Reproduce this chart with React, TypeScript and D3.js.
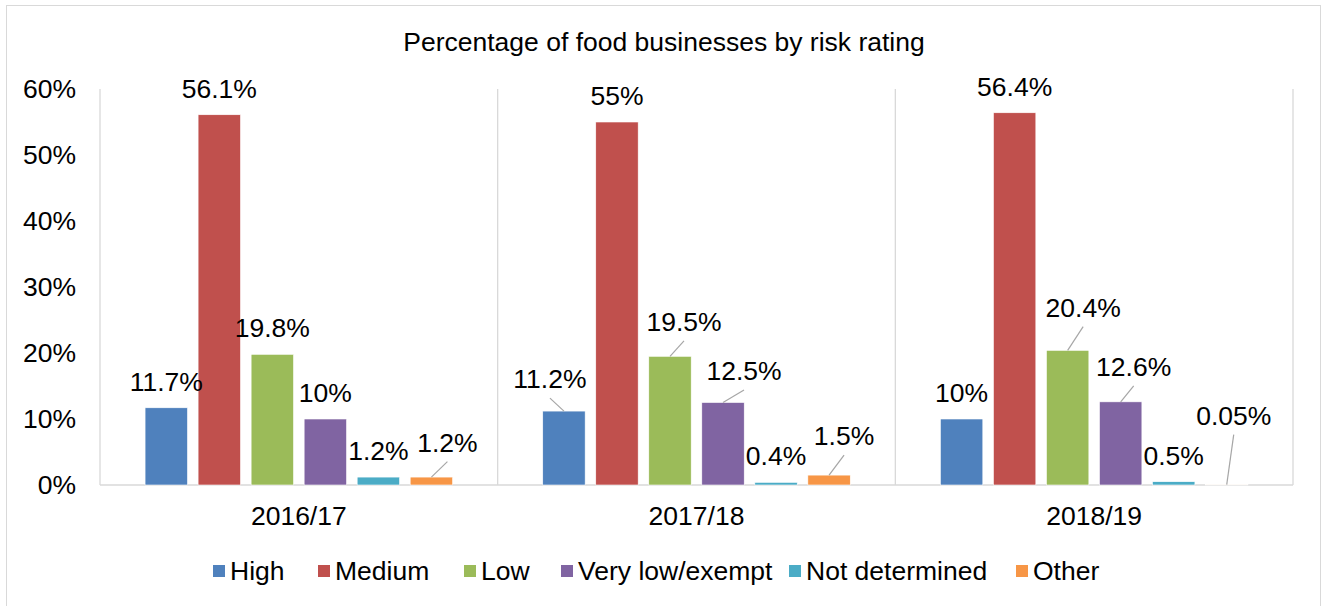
import React from 'react';
import * as d3 from 'd3';

const categories = ['2016/17', '2017/18', '2018/19'];
const series = ['High', 'Medium', 'Low', 'Very low/exempt', 'Not determined', 'Other'];
const colors = ['#4f81bd', '#c0504d', '#9bbb59', '#8064a2', '#4bacc6', '#f79646'];

// percentages per series, one value per category
const high = [11.7, 11.2, 10];
const medium = [56.1, 55, 56.4];
const low = [19.8, 19.5, 20.4];
const veryLow = [10, 12.5, 12.6];
const notDetermined = [1.2, 0.4, 0.5];
const other = [1.2, 1.5, 0.05];
const values = [high, medium, low, veryLow, notDetermined, other];

const yTicks = [0, 10, 20, 30, 40, 50, 60];

// labels that Excel pulled away from their bars (leader lines drawn)
const labelNudge: Record<string, [number, number]> = {
  '2016/17|Other': [16, -8.5],
  '2017/18|High': [-14, -6],
  '2017/18|Low': [14, -8.5],
  '2017/18|Very low/exempt': [21, -5.5],
  '2017/18|Other': [15, -13],
  '2018/19|Low': [15.5, -16.7],
  '2018/19|Very low/exempt': [13, -9],
  '2018/19|Other': [7, -43],
};

const W = 1322;
const H = 606;
const plot = { left: 100, right: 1293, top: 89, bottom: 485 };
const font = '"Liberation Sans", Arial, sans-serif';
const fs = 26.5;

const App: React.FC = () => {
  const x0 = d3.scaleBand<string>().domain(categories).range([plot.left, plot.right]);
  const x1 = d3
    .scaleBand<string>()
    .domain(series)
    .range([0, x0.bandwidth()])
    .paddingInner(0.2)
    .paddingOuter(0.85);
  const y = d3.scaleLinear().domain([0, 60]).range([plot.bottom, plot.top]);

  const bars = categories.flatMap((cat, ci) =>
    series.map((s, si) => ({ cat, s, si, v: values[si][ci] }))
  );

  // legend layout (x of each swatch)
  const legendX = [213, 318, 464, 561, 789, 1016];

  return (
    <div style={{ position: 'absolute', left: 0, top: 0 }}>
      <svg width={W} height={H} style={{ display: 'block', fontFamily: font }}>
        <rect x={0} y={0} width={W} height={H} fill="#fff" />
        <rect x={6.5} y={5.5} width={1314} height={620} fill="none" stroke="#d9d9d9" />

        <text x={664} y={51} textAnchor="middle" fontSize={fs} fill="#000">
          Percentage of food businesses by risk rating
        </text>

        {/* y tick labels */}
        {yTicks.map((t) => (
          <text key={t} x={76} y={y(t)} dy="0.35em" textAnchor="end" fontSize={fs} fill="#000">
            {t}%
          </text>
        ))}

        {/* category separators + baseline */}
        {[...categories.map((c) => x0(c)!), plot.right].map((xx, i) => (
          <line key={i} x1={xx} x2={xx} y1={plot.top} y2={plot.bottom} stroke="#d9d9d9" strokeWidth={1.3} />
        ))}
        <line x1={plot.left} x2={plot.right} y1={plot.bottom} y2={plot.bottom} stroke="#d9d9d9" strokeWidth={1.3} />

        {/* bars */}
        {bars.map((b) => {
          const bx = x0(b.cat)! + x1(b.s)!;
          return (
            <rect
              key={b.cat + b.s}
              x={bx}
              y={y(b.v)}
              width={x1.bandwidth()}
              height={plot.bottom - y(b.v)}
              fill={colors[b.si]}
              stroke="#fff"
              strokeWidth={0.6}
            />
          );
        })}

        {/* data labels */}
        {bars.map((b) => {
          const cx = x0(b.cat)! + x1(b.s)! + x1.bandwidth() / 2;
          const top = y(b.v);
          const nudge = labelNudge[b.cat + '|' + b.s];
          const lx = cx + (nudge ? nudge[0] : 0);
          const ly = top - 17 + (nudge ? nudge[1] : 0);
          return (
            <g key={'l' + b.cat + b.s}>
              {nudge && <line x1={lx} y1={ly + 10} x2={cx} y2={top} stroke="#a6a6a6" strokeWidth={1.2} />}
              <text x={lx} y={ly} textAnchor="middle" fontSize={fs} fill="#000">
                {b.v}%
              </text>
            </g>
          );
        })}

        {/* category labels */}
        {categories.map((c) => (
          <text key={c} x={x0(c)! + x0.bandwidth() / 2} y={525} textAnchor="middle" fontSize={fs} fill="#000">
            {c}
          </text>
        ))}

        {/* legend */}
        {series.map((s, i) => (
          <g key={s} transform={`translate(${legendX[i]},0)`}>
            <rect x={0} y={565} width={12} height={12} fill={colors[i]} />
            <text x={17} y={580} fontSize={fs} fill="#000">
              {s}
            </text>
          </g>
        ))}
      </svg>
    </div>
  );
};

export default App;
